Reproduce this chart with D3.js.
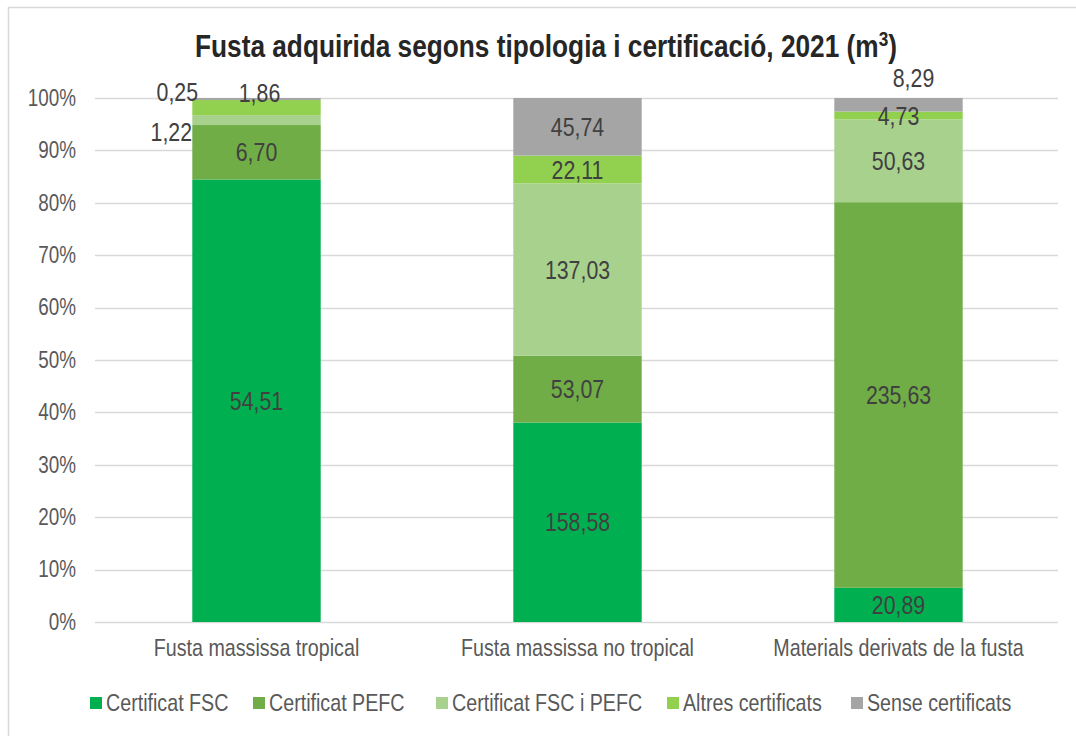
<!DOCTYPE html>
<html><head><meta charset="utf-8">
<script src="https://cdn.jsdelivr.net/npm/d3@7"></script>
<style>
body{margin:0;background:#fff;}
text{font-family:"Liberation Sans Narrow","Arial Narrow","Liberation Sans",Arial,sans-serif;}
</style></head>
<body><svg id="c" width="1076" height="736"></svg>
<script>
const categories = ["Fusta massissa tropical","Fusta massissa no tropical","Materials derivats de la fusta"];
const seriesNames = ["Certificat FSC","Certificat PEFC","Certificat FSC i PEFC","Altres certificats","Sense certificats"];
const fsc   = [54.51, 158.58, 20.89];
const pefc  = [6.70, 53.07, 235.63];
const both  = [1.22, 137.03, 50.63];
const altres= [1.86, 22.11, 4.73];
const sense = [0.25, 45.74, 8.29];
const yTicks = [0,0.1,0.2,0.3,0.4,0.5,0.6,0.7,0.8,0.9,1];
const colors = ["#00b050","#70ad47","#a9d18e","#92d050","#a5a5a5"];

const seriesVals = [fsc,pefc,both,altres,sense];
const K = 0.82; // horizontal condensing to imitate a narrow typeface
const svg = d3.select("#c");
svg.append("rect").attr("x",8.5).attr("y",7.5).attr("width",1080).attr("height",740)
  .attr("fill","none").attr("stroke","#d9d9d9").attr("stroke-width",1.5);

const pL=95,pR=1058,pT=98,pB=622;
const x = d3.scaleBand().domain(categories).range([pL+1,pR+1]).paddingInner(0.6).paddingOuter(0.3);
const y = d3.scaleLinear().domain([0,1]).range([pB,pT]);

function ntext(parent, cx, cy, size){
  return parent.append("g").attr("transform",`translate(${cx},${cy}) scale(${K},1)`)
    .append("text").attr("font-size",size);
}

const title = ntext(svg, 546, 57, 32).attr("text-anchor","middle").attr("font-weight","bold").attr("fill","#262626");
title.append("tspan").text("Fusta adquirida segons tipologia i certificació, 2021 (m");
title.append("tspan").attr("dy",-11).attr("font-size",21).text("3");
title.append("tspan").attr("dy",11).text(")");

svg.selectAll("line.grid").data(yTicks).join("line").attr("class","grid")
  .attr("x1",pL).attr("x2",pR).attr("y1",d=>Math.round(y(d))+0.5).attr("y2",d=>Math.round(y(d))+0.5)
  .attr("stroke","#d9d9d9").attr("stroke-width",1.5);

const yAxis = d3.axisLeft(y).tickValues(yTicks).tickFormat(d=>Math.round(d*100)+"%").tickSize(0).tickPadding(19);
const ya = svg.append("g").attr("transform",`translate(${pL},0)`).call(yAxis);
ya.select(".domain").remove();
ya.selectAll("text").attr("font-size",23).attr("fill","#595959")
  .style("font-family",'"Liberation Sans Narrow","Liberation Sans",Arial,sans-serif')
  .attr("x",-19/K).attr("transform",`scale(${K},1)`);

const xAxis = d3.axisBottom(x).tickSize(0).tickPadding(17);
const xa = svg.append("g").attr("transform",`translate(0,${pB})`).call(xAxis);
xa.select(".domain").remove();
xa.selectAll("text").attr("font-size",24).attr("fill","#595959")
  .style("font-family",'"Liberation Sans Narrow","Liberation Sans",Arial,sans-serif')
  .attr("transform",`scale(${K},1)`);

const rows = categories.map((c,i)=>{const o={cat:c}; seriesNames.forEach((s,j)=>o[s]=seriesVals[j][i]); return o;});
const stack = d3.stack().keys(seriesNames).offset(d3.stackOffsetExpand)(rows);

stack.forEach((layer,j)=>{
  svg.append("g").selectAll("rect").data(layer).join("rect")
    .attr("x",d=>x(d.data.cat)).attr("width",x.bandwidth())
    .attr("y",d=>y(d[1])).attr("height",d=>y(d[0])-y(d[1]))
    .attr("fill",colors[j]);
});
stack.forEach((layer,j)=>{
  layer.forEach((d,i)=>{
    const key=i+"-"+j;
    let cx = x(d.data.cat)+x.bandwidth()/2;
    let cy = (y(d[0])+y(d[1]))/2;
    if(key==="0-4"){ cy = pT-6; cx = x(d.data.cat)-15; }
    if(key==="0-3"){ cy = pT-5; cx = x(d.data.cat)+x.bandwidth()/2+3; }
    if(key==="0-2"){ cy = cy+12; cx = x(d.data.cat)-21; }
    if(key==="2-4"){ cy = pT-20; cx = x(d.data.cat)+x.bandwidth()/2+15; }
    ntext(svg, cx, cy, 26).attr("dy","0.35em").attr("text-anchor","middle").attr("fill","#404040")
      .text(d3.format(".2f")(seriesVals[j][i]).replace(".",","));
  });
});

const legX = [90,253,436,667,851];
const lg = svg.selectAll("g.leg").data(seriesNames).join("g").attr("class","leg").attr("transform",(d,i)=>`translate(${legX[i]},703)`);
lg.append("rect").attr("x",0).attr("y",-6).attr("width",12).attr("height",12).attr("fill",(d,i)=>colors[i]);
lg.each(function(d){ ntext(d3.select(this), 16, 0, 24).attr("dy","0.35em").attr("fill","#595959").text(d); });
</script></body></html>
